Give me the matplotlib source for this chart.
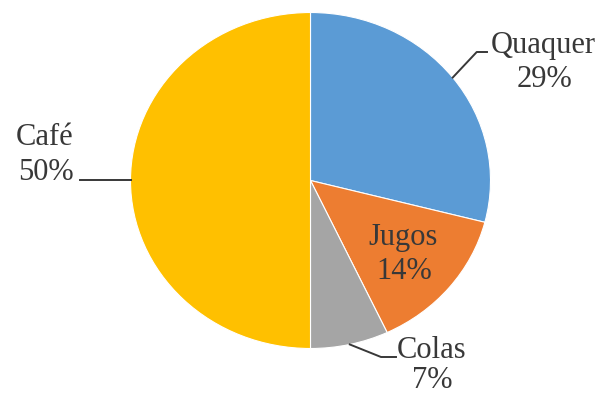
import numpy as np
import matplotlib
matplotlib.use("Agg")
import matplotlib.pyplot as plt

labels = ["Quaquer", "Jugos", "Colas", "Café"]
values = [29, 14, 7, 50]
colors = ["#5B9BD5", "#ED7D31", "#A5A5A5", "#FFC000"]

W, H = 602, 396
fig = plt.figure(figsize=(W / 100, H / 100), dpi=100)
fig.patch.set_facecolor("white")

# pie bbox in pixels (image coordinates, y down)
cx, cy, rx, ry = 310.5, 180.5, 180, 168
ax = fig.add_axes([(cx - rx) / W, 1 - (cy + ry) / H, 2 * rx / W, 2 * ry / H])
wedges, _ = ax.pie(values, colors=colors, startangle=90, counterclock=False,
                   wedgeprops=dict(edgecolor="white", linewidth=0.8))
ax.set_aspect("auto")
ax.set_xlim(-1, 1)
ax.set_ylim(-1, 1)
ax.axis("off")

ov = fig.add_axes([0, 0, 1, 1], zorder=5)
ov.set_xlim(0, W)
ov.set_ylim(H, 0)
ov.axis("off")

font = dict(family=["Liberation Serif", "DejaVu Serif"], fontsize=22, color="#383838")

def edge(i):
    w = wedges[i]
    a = np.deg2rad((w.theta1 + w.theta2) / 2)
    return cx + rx * np.cos(a), cy - ry * np.sin(a)

pct = [f"{v}%" for v in values]

# Quaquer
ex, ey = edge(0)
ov.plot([ex, ex + 24, 487], [ey, 52, 52], color="#383838", lw=1.4)
ov.text(543, 53, labels[0], ha="center", va="baseline", **font)
ov.text(545, 87, pct[0], ha="center", va="baseline", **font)

# Jugos (inside)
ov.text(403, 245, labels[1], ha="center", va="baseline", **font)
ov.text(404, 279, pct[1], ha="center", va="baseline", **font)

# Colas
ex, ey = edge(2)
ov.plot([ex, 381, 396], [ey, 357, 357], color="#383838", lw=1.4)
ov.text(432, 358, labels[2], ha="center", va="baseline", **font)
ov.text(432, 388, pct[2], ha="center", va="baseline", **font)

# Café
ex, ey = edge(3)
ov.plot([80, ex], [ey, ey], color="#383838", lw=1.4)
ov.text(45, 145, labels[3], ha="center", va="baseline", **font)
ov.text(46, 180, pct[3], ha="center", va="baseline", **font)

fig.savefig("out.png", dpi=100, facecolor="white")
